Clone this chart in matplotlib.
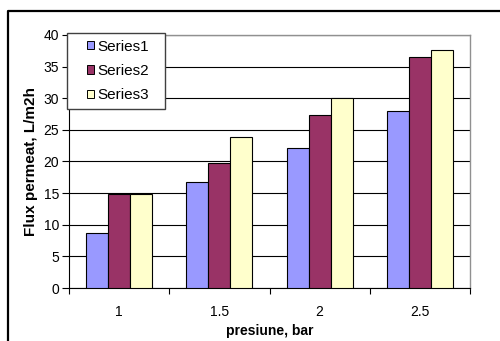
import matplotlib
matplotlib.use('Agg')
import matplotlib.pyplot as plt
from matplotlib.patches import Patch, Rectangle
from matplotlib.lines import Line2D
import numpy as np

plt.rcParams['font.family'] = ['Liberation Sans', 'DejaVu Sans']

categories = ['1', '1.5', '2', '2.5']
series1 = [8.7, 16.7, 22.2, 28.0]
series2 = [14.8, 19.8, 27.3, 36.5]
series3 = [14.8, 23.9, 30.1, 37.7]
names = ['Series1', 'Series2', 'Series3']
colors = ['#9999ff', '#993366', '#ffffcc']

fig = plt.figure(figsize=(5, 3.41), dpi=100)
ax = fig.add_axes([0.138, 0.1554, 0.802, 0.742])

x = np.arange(len(categories))
w = 0.22
for i, (vals, c) in enumerate(zip([series1, series2, series3], colors)):
    ax.bar(x + (i - 1) * w, vals, w, color=c, edgecolor='black', linewidth=0.8, zorder=3)

ax.set_xlim(-0.5, len(categories) - 0.5)
ax.set_ylim(0, 40)
ax.set_yticks(range(0, 41, 5))
ax.set_xticks(x)
ax.set_xticklabels(categories)
ax.set_xticks(np.arange(-0.5, len(categories), 1.0), minor=True)
ax.tick_params(axis='x', which='major', length=0, pad=12, labelsize=10)
ax.tick_params(axis='x', which='minor', length=4, width=0.8, direction='out')
ax.tick_params(axis='y', length=5, width=0.8, direction='out', labelsize=10, pad=2)

ax.yaxis.grid(True, color='black', linewidth=0.8, zorder=0)
ax.set_axisbelow(True)
for s in ['top', 'right']:
    ax.spines[s].set_color('#909090')
    ax.spines[s].set_linewidth(1.0)
for s in ['left', 'bottom']:
    ax.spines[s].set_color('black')
    ax.spines[s].set_linewidth(0.8)

ax.set_xlabel('presiune, bar', fontsize=10, fontweight='bold', labelpad=3.5)
ax.set_ylabel('Flux permeat, L/m2h', fontsize=11, fontweight='bold', labelpad=4)

# legend box drawn by hand, entries centered inside
box = Rectangle((-0.005, 0.7075), 0.244, 0.3005, transform=ax.transAxes,
                facecolor='white', edgecolor='#404040', linewidth=1.0,
                zorder=5, clip_on=False)
ax.add_patch(box)
handles = [Patch(facecolor=c, edgecolor='black', linewidth=0.7) for c in colors]
leg = ax.legend(handles, names, loc='center', bbox_to_anchor=(0.122, 0.858),
                frameon=False, fontsize=11, handlelength=0.5, handleheight=0.5,
                handletextpad=0.2, labelspacing=0.68, borderpad=0.2)
leg.set_zorder(6)

# outer chart border (left and top)
fig.add_artist(Line2D([0.016, 0.016, 1.0], [0.0, 0.968, 0.968],
                      transform=fig.transFigure, color='black', linewidth=1.6))

fig.savefig('out.png', dpi=100)
